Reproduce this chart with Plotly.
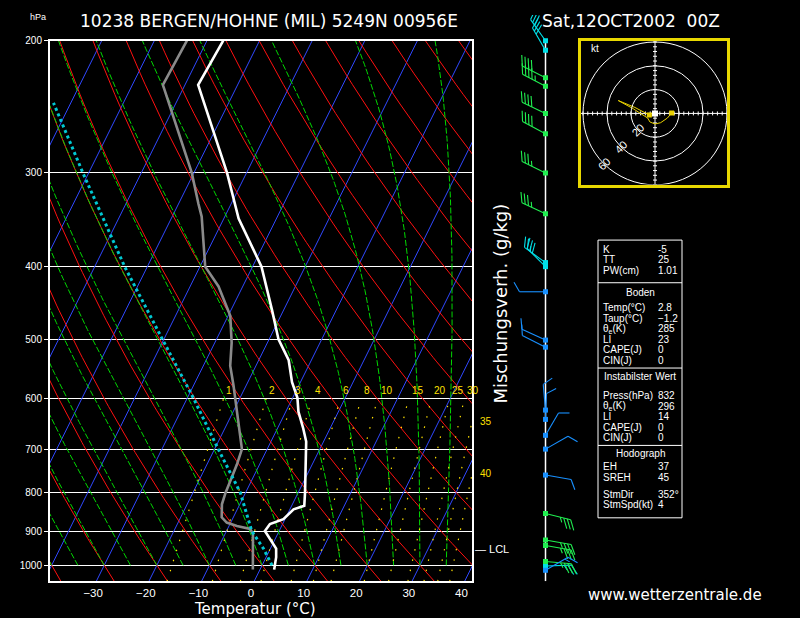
import numpy as np
import plotly.graph_objects as go

# ---------------- data ----------------
# temperature profile (hPa, degC)
temp_p = [1013, 975, 950, 936, 900, 881, 868, 842, 833, 800, 700, 684, 657, 624, 598,
          570, 533, 500, 456, 400, 345, 300, 229, 200]
temp_t = [2.7, 1.9, 1.1, 0.1, -2.7, -2.4, -0.3, 0.7, 2.4, 1.3, -2.7, -3.3, -5.1, -7.6, -9.1,
          -11.6, -14.3, -18.2, -22.3, -28.3, -37.2, -43.7, -57.5, -56.9]
# dew point profile
dew_p = [1013, 975, 908, 894, 886, 877, 863, 829, 800, 772, 734, 700, 643, 598, 576,
         542, 505, 465, 425, 400, 365, 343, 330, 300, 229, 200]
dew_t = [-1.35, -2.5, -4.7, -5.7, -8.5, -10.75, -12.2, -13.4, -13.8, -14.0, -14.3, -14.8, -18.1, -20.9, -22.4,
         -24.9, -26.8, -29.6, -34.6, -39.0, -42.2, -44.4, -46.2, -50.4, -64.2, -63.8]
# lifted parcel path
parcel_p = [1000, 950, 900, 800, 700, 598, 502, 400, 301, 242]
parcel_t = [1.9, -1.3, -5.2, -11.0, -19.3, -28.9, -40.0, -54.3, -70.9, -83.3]
LCL_P = 952

# winds: pressure (hPa), direction (deg), speed (kt)
wind_p = [200, 206, 224, 230, 250, 266, 300, 340, 395, 400, 432, 501, 512, 621, 639,
          671, 700, 758, 853, 925, 941, 988, 1002, 1015]
wind_dir = [325, 330, 297, 298, 296, 298, 296, 295, 306, 315, 270, 295, 297, 355, 2,
            30, 60, 100, 104, 100, 100, 95, 88, 60]
wind_spd = [30, 30, 40, 45, 40, 40, 35, 35, 25, 30, 10, 10, 10, 10, 10,
            10, 10, 10, 35, 35, 35, 35, 25, 15]

# hodograph trace (kt)
hodo_u = [13.9, 10.3, 4.7, 0.0, -4.2, -6.1, -18.1, -30.6, -16.7, -4.7]
hodo_v = [0.3, -3.9, -7.8, -8.9, -7.2, -3.9, 3.9, 10.8, 5.0, -1.4]
hodo_rings = [20, 40, 60]

# axis ticks
p_ticks = [200, 300, 400, 500, 600, 700, 800, 900, 1000]
t_ticks = [-30, -20, -10, 0, 10, 20, 30, 40]
mix_ratios = [1, 2, 3, 4, 6, 8, 10, 15, 20, 25, 30, 35, 40]
moist_t1000 = list(range(-40, 40, 5))
dry_t1000 = list(range(-40, 170, 10))
iso_t = list(range(-110, 50, 10))

# table text
tbl_top = [("K", "-5"), ("TT", "25"), ("PW(cm)", "1.01")]
tbl_boden = [("Temp(°C)", "2.8"), ("Taup(°C)", "\u22121.2"), ("θ<sub>e</sub>(K)", "285"),
             ("LI", "23"), ("CAPE(J)", "0"), ("CIN(J)", "0")]
tbl_inst = [("Press(hPa)", "832"), ("θ<sub>e</sub>(K)", "296"), ("LI", "14"),
            ("CAPE(J)", "0"), ("CIN(J)", "0")]
tbl_hodo = [("EH", "37"), ("SREH", "45"), ("StmDir", "352°"), ("StmSpd(kt)", "4")]

# ---------------- geometry ----------------
W, H = 800, 618
PX_L, PX_R, PX_T, PX_B = 50, 472, 36, 581
P_BOT, P_TOP = 1050.0, 200.0
X_MIN, X_MAX = -38.8, 41.4
SKEW = 30.77
SCALE_PX = (PX_B - PX_T) / np.log(P_BOT / P_TOP)
TICK_SHIFT = -0.6

def px(x):
    return x / W

def py(y):
    return 1 - y / H

def skx(T, p):
    return np.asarray(T, float) + SKEW * np.log(P_BOT / np.asarray(p, float))

def joined(lines):
    xs, ys = [], []
    for x, y in lines:
        xs += list(x) + [None]
        ys += list(y) + [None]
    return xs, ys

RD, CPD, LV, EPS = 287.04, 1005.7, 2.501e6, 0.622

def esat(tc):
    return 6.112 * np.exp(17.67 * tc / (tc + 243.5))

def dTdp(T, p):
    es = esat(T - 273.15)
    rs = EPS * es / (p - es)
    return (RD * T + LV * rs) / (CPD + LV * LV * rs * EPS / (RD * T * T)) / p

fig = go.Figure()

# isotherms
pp2 = np.array([P_BOT, P_TOP])
xs, ys = joined([(skx([t, t], pp2), pp2) for t in iso_t])
fig.add_trace(go.Scatter(x=xs, y=ys, mode="lines", line=dict(color="#3048ff", width=1),
                         hoverinfo="skip"))
# dry adiabats
pgrid = np.linspace(P_BOT, P_TOP, 120)
lines = []
for t0 in dry_t1000:
    th = t0 + 273.15
    T = th * (pgrid / 1000.0) ** (RD / CPD) - 273.15
    lines.append((skx(T, pgrid), pgrid))
xs, ys = joined(lines)
fig.add_trace(go.Scatter(x=xs, y=ys, mode="lines", line=dict(color="#ff1010", width=1),
                         hoverinfo="skip"))
# moist adiabats
pm = np.arange(1000.0, 199.0, -5.0)
Tm = np.array(moist_t1000, float) + 273.15
res = [Tm.copy()]
for i in range(1, len(pm)):
    p1, p2 = pm[i - 1], pm[i]
    h = p2 - p1
    k1 = dTdp(Tm, p1)
    k2 = dTdp(Tm + h / 2 * k1, p1 + h / 2)
    k3 = dTdp(Tm + h / 2 * k2, p1 + h / 2)
    k4 = dTdp(Tm + h * k3, p2)
    Tm = Tm + h / 6 * (k1 + 2 * k2 + 2 * k3 + k4)
    res.append(Tm.copy())
res = np.array(res) - 273.15
xs, ys = joined([(skx(res[:, j], pm), pm) for j in range(res.shape[1])])
fig.add_trace(go.Scatter(x=xs, y=ys, mode="lines",
                         line=dict(color="#00d800", width=1, dash="6px,2px"), hoverinfo="skip"))
# mixing ratio lines
pw = np.linspace(P_BOT, 600, 60)

def td_mix(w, p):
    e = (w / 1000.0) * p / (EPS + w / 1000.0)
    l = np.log(e / 6.112)
    return 243.5 * l / (17.67 - l)

xs, ys = joined([(skx(td_mix(w, pw), pw), pw) for w in mix_ratios])
fig.add_trace(go.Scatter(x=xs, y=ys, mode="lines",
                         line=dict(color="#ffe000", width=1.2, dash="1.5px,9px"), hoverinfo="skip"))

# profiles
fig.add_trace(go.Scatter(x=skx(dew_t, dew_p), y=dew_p, mode="lines",
                         line=dict(color="#8a8a8a", width=2.6), hoverinfo="skip"))
fig.add_trace(go.Scatter(x=skx(parcel_t, parcel_p), y=parcel_p, mode="lines",
                         line=dict(color="#00c8d2", width=3, dash="3px,3px"), hoverinfo="skip"))
fig.add_trace(go.Scatter(x=skx(temp_t, temp_p), y=temp_p, mode="lines",
                         line=dict(color="#ffffff", width=2.6), hoverinfo="skip"))

# ---------------- wind barbs ----------------
STAFF_X = 545.5
STAFF_L = 26.0
FEATHER_L = 11.0
FEATHER_GAP = 3.6
P_TOP2 = P_BOT * np.exp(-(PX_B - 10) / SCALE_PX)

def barb_color(s):
    if s >= 35:
        return "#20ee50"
    if s >= 20:
        return "#00e0e8"
    return "#1890ff"

groups = {}
for p0, d, s in zip(wind_p, wind_dir, wind_spd):
    r = np.deg2rad(d)
    ux, uy = np.sin(r), np.cos(r)
    fx, fy = uy, -ux
    ffx, ffy = 0.866 * fx + 0.5 * ux, 0.866 * fy + 0.5 * uy
    segs = [((0, 0), (ux * STAFF_L, uy * STAFF_L))]
    n_full, n_half = s // 10, 1 if s % 10 >= 5 else 0
    pos = STAFF_L
    for k in range(n_full):
        bx, by = ux * pos, uy * pos
        segs.append(((bx, by), (bx + ffx * FEATHER_L, by + ffy * FEATHER_L)))
        pos -= FEATHER_GAP
    if n_half:
        if n_full == 0:
            pos -= FEATHER_GAP
        bx, by = ux * pos, uy * pos
        segs.append(((bx, by), (bx + ffx * FEATHER_L / 2, by + ffy * FEATHER_L / 2)))
    c = barb_color(s)
    g = groups.setdefault(c, dict(x=[], y=[], mx=[], my=[]))
    for (a, b) in segs:
        g["x"] += [STAFF_X + a[0], STAFF_X + b[0], None]
        g["y"] += [p0 * np.exp(-a[1] / SCALE_PX), p0 * np.exp(-b[1] / SCALE_PX), None]
    g["mx"].append(STAFF_X)
    g["my"].append(p0)

fig.add_trace(go.Scatter(x=[STAFF_X, STAFF_X], y=[P_TOP, P_BOT], xaxis="x2", yaxis="y2",
                         mode="lines", line=dict(color="white", width=1.5), hoverinfo="skip"))
for c, g in groups.items():
    fig.add_trace(go.Scatter(x=g["x"], y=g["y"], xaxis="x2", yaxis="y2", mode="lines",
                             line=dict(color=c, width=1.1), hoverinfo="skip"))
    fig.add_trace(go.Scatter(x=g["mx"], y=g["my"], xaxis="x2", yaxis="y2", mode="markers",
                             marker=dict(color=c, size=5, symbol="square"), hoverinfo="skip"))

# ---------------- hodograph ----------------
HC_X, HC_Y, H_PXKT = 655.0, 109.3, 1.2
HB_L, HB_R, HB_T, HB_B = 581, 727, 36, 181
hx_rng = [-(HC_X - HB_L) / H_PXKT, (HB_R - HC_X) / H_PXKT]
hy_rng = [-(HB_B - HC_Y) / H_PXKT, (HC_Y - HB_T) / H_PXKT]
fig.add_trace(go.Scatter(x=[hx_rng[0], hx_rng[1], None, 0, 0], y=[0, 0, None, hy_rng[0], hy_rng[1]],
                         xaxis="x3", yaxis="y3", mode="lines", line=dict(color="white", width=1),
                         hoverinfo="skip"))
tx, ty = [], []
tl = 2.0 / H_PXKT
for v in np.arange(4, 64, 4):
    for sgn in (-1, 1):
        tx += [sgn * v, sgn * v, None, -tl, tl, None]
        ty += [-tl, tl, None, sgn * v, sgn * v, None]
fig.add_trace(go.Scatter(x=tx, y=ty, xaxis="x3", yaxis="y3", mode="lines",
                         line=dict(color="white", width=1), hoverinfo="skip"))
fig.add_trace(go.Scatter(x=hodo_u, y=hodo_v, xaxis="x3", yaxis="y3", mode="lines",
                         line=dict(color="#e8d000", width=1), hoverinfo="skip"))
fig.add_trace(go.Scatter(x=[hodo_u[0], hodo_u[-1]], y=[hodo_v[0], hodo_v[-1]], xaxis="x3", yaxis="y3",
                         mode="markers", marker=dict(color="#e8d000", size=5, symbol="square"),
                         hoverinfo="skip"))
fig.add_trace(go.Scatter(x=[0], y=[0], xaxis="x3", yaxis="y3", mode="markers",
                         marker=dict(color="white", size=6, symbol="square"), hoverinfo="skip"))

shapes = []
for r in hodo_rings:
    shapes.append(dict(type="circle", xref="x3", yref="y3", x0=-r, x1=r, y0=-r, y1=r,
                       line=dict(color="white", width=1)))
# table box
TB_L, TB_R, TB_T, TB_B = 598, 682, 237, 517
shapes.append(dict(type="rect", xref="paper", yref="paper", x0=px(TB_L), x1=px(TB_R),
                   y0=py(TB_B), y1=py(TB_T), line=dict(color="white", width=1)))
for yy in (280, 366, 444):
    shapes.append(dict(type="line", xref="paper", yref="paper", x0=px(TB_L), x1=px(TB_R),
                       y0=py(yy), y1=py(yy), line=dict(color="white", width=1)))

FONT = "DejaVu Sans"
TFONT = "Liberation Sans"
ann = []

def txt(x, y, s, size=10, color="white", xa="left", family=TFONT, angle=0):
    ann.append(dict(x=px(x), y=py(y), xref="paper", yref="paper", text=s, showarrow=False,
                    xanchor=xa, yanchor="middle", textangle=angle,
                    font=dict(family=family, size=size, color=color)))

txt(269, 16, "10238 BERGEN/HOHNE (MIL) 5249N 00956E", 17, xa="center", family=FONT)
txt(631, 16, "Sat,12OCT2002\u00a0 00Z", 17, xa="center", family=FONT)
txt(38, 12, "hPa", 9, xa="center")
txt(255, 609, "Temperatur (°C)", 15, xa="center", family=FONT)
txt(501, 301, "Mischungsverh. (g/kg)", 18, xa="center", family=FONT, angle=-90)
txt(675, 595, "www.wetterzentrale.de", 15, xa="center", family=FONT)
txt(589, 44, "kt", 10)

# ring labels
for r in hodo_rings:
    a = np.deg2rad(225)
    ann.append(dict(x=r * np.cos(a), y=r * np.sin(a), xref="x3", yref="y3", text=str(r),
                    showarrow=False, textangle=-45, font=dict(family=TFONT, size=11, color="white")))

# table text
rows_top = [246, 257, 268]
rows_boden = [305, 315.6, 326.2, 336.8, 347.4, 358]
rows_inst = [394, 404.5, 415, 425.5, 436]
rows_hodo = [465, 476, 493, 504]
for rows, items in ((rows_top, tbl_top), (rows_boden, tbl_boden), (rows_inst, tbl_inst),
                    (rows_hodo, tbl_hodo)):
    for yy, (lab, val) in zip(rows, items):
        txt(601, yy, lab, 10)
        txt(656, yy, val, 10)
txt(640, 290, "Boden", 10, xa="center")
txt(640, 375, "Instabilster Wert", 10, xa="center")
txt(640, 452, "Hodograph", 10, xa="center")

# mixing ratio labels
for w in mix_ratios:
    xm = float(skx(td_mix(w, 600.0), 600.0))
    if xm <= X_MAX:
        ann.append(dict(x=xm, y=np.log10(600), xref="x", yref="y", text=str(w), showarrow=False,
                        xanchor="left", yanchor="bottom", yshift=1, xshift=1,
                        font=dict(family=TFONT, size=10, color="#ffe000")))
    else:
        pg = np.linspace(1050, 600, 2000)
        xv = skx(td_mix(w, pg), pg)
        pc = pg[np.argmin(np.abs(xv - X_MAX))]
        ann.append(dict(x=X_MAX, y=np.log10(pc), xref="x", yref="y", text=str(w), showarrow=False,
                        xanchor="left", yanchor="middle", xshift=6,
                        font=dict(family=TFONT, size=10, color="#ffe000")))
# LCL
ann.append(dict(x=X_MAX, y=np.log10(LCL_P), xref="x", yref="y", text="\u2014 LCL", showarrow=False,
                xanchor="left", yanchor="middle", xshift=1,
                font=dict(family=TFONT, size=11, color="white")))

fig.update_layout(
    width=W, height=H, margin=dict(l=0, r=0, t=0, b=0),
    paper_bgcolor="black", plot_bgcolor="black", showlegend=False,
    shapes=shapes, annotations=ann,
    xaxis=dict(domain=[px(PX_L), px(PX_R)], range=[X_MIN, X_MAX], anchor="y",
               showgrid=False, zeroline=False, showline=True, mirror=True,
               linecolor="white", linewidth=2, ticks="",
               tickvals=[t + TICK_SHIFT for t in t_ticks],
               ticktext=[str(t).replace("-", "\u2212") for t in t_ticks],
               tickfont=dict(family=TFONT, size=11.5, color="white")),
    yaxis=dict(domain=[py(PX_B), py(PX_T)], type="log",
               range=[np.log10(P_BOT), np.log10(P_TOP)], anchor="x",
               showgrid=True, gridcolor="white", gridwidth=1.4, zeroline=False,
               showline=True, mirror=True, linecolor="white", linewidth=2,
               ticks="outside", ticklen=4, tickcolor="white",
               tickvals=p_ticks, ticktext=[str(p) for p in p_ticks],
               tickfont=dict(family=TFONT, size=10, color="white")),
    xaxis2=dict(domain=[px(500), px(590)], range=[500, 590], anchor="y2", visible=False),
    yaxis2=dict(domain=[py(PX_B), py(10)], type="log",
                range=[np.log10(P_BOT), np.log10(P_TOP2)], anchor="x2", visible=False),
    xaxis3=dict(domain=[px(HB_L), px(HB_R)], range=hx_rng, anchor="y3", showgrid=False,
                zeroline=False, showline=True, mirror=True, linecolor="#e8d800", linewidth=2.5,
                ticks="", showticklabels=False),
    yaxis3=dict(domain=[py(HB_B), py(HB_T)], range=hy_rng, anchor="x3", showgrid=False,
                zeroline=False, showline=True, mirror=True, linecolor="#e8d800", linewidth=2.5,
                ticks="", showticklabels=False),
)

fig.write_html("out.html", config={"displayModeBar": False},
               post_script="document.body.style.margin='0px';"
                           "document.body.style.background='black';")
